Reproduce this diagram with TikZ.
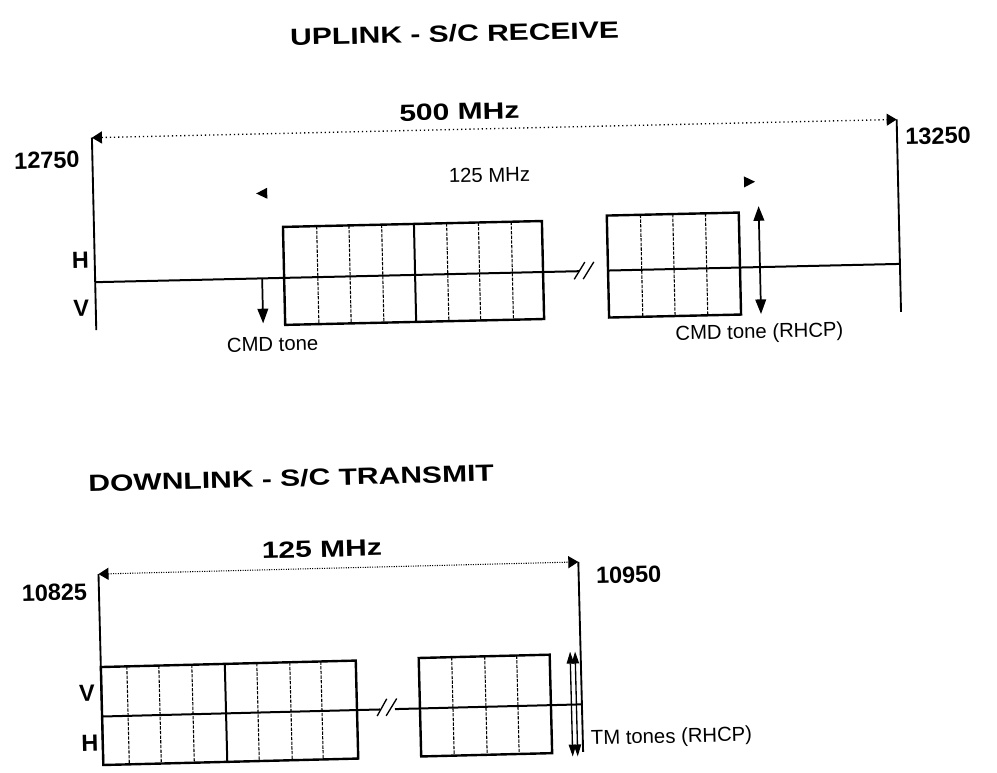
\documentclass[tikz,border=0pt]{standalone}
\usepackage{fontspec}
\setmainfont{Liberation Sans}
\newfontfamily\widefont{Liberation Sans}[FakeStretch=1.28]
\usetikzlibrary{arrows.meta}
\tikzset{
  ttl/.style={font=\widefont\bfseries\fontsize{17.6}{20}\selectfont, inner sep=0pt},
  num/.style={font=\bfseries\fontsize{17.6}{20}\selectfont, inner sep=0pt},
  lbl/.style={font=\fontsize{15.2}{18}\selectfont, inner sep=0pt},
  band/.style={line width=1.8pt},
  divider/.style={line width=0.8pt, dash pattern=on 2.5pt off 1pt},
  axis/.style={line width=1.5pt},
  edge/.style={line width=1.4pt},
  slash/.style={line width=1pt},
  dimup/.style={line width=1pt, dash pattern=on 0.9pt off 2.2pt,
    {Triangle[length=7.5pt,width=9pt]}-{Triangle[length=7.5pt,width=9pt]}},
  dimdown/.style={line width=0.8pt, densely dotted,
    {Triangle[length=7.5pt,width=9pt]}-{Triangle[length=7.5pt,width=9pt]}},
  tone/.style={line width=1.3pt, -{Triangle[length=11pt,width=8pt]}},
  tonetwo/.style={line width=1.3pt, {Triangle[length=11pt,width=8pt]}-{Triangle[length=11pt,width=8pt]}},
  tmtone/.style={line width=1pt, {Triangle[length=9pt,width=5.5pt]}-{Triangle[length=9pt,width=5.5pt]}},
}
\begin{document}
\begin{tikzpicture}[x=0.75pt, y=-0.75pt]
\useasboundingbox (0,0) rectangle (997,773);

% ---------------- UPLINK ----------------
\begin{scope}[rotate around={1.3:(500,270)}, transform shape]
  \node[ttl] (uptitle) at (460,32.5) {UPLINK - S/C RECEIVE};
  \coordinate (ultop) at (95,128.5);
  \coordinate (ulbot) at (95,321);
  \coordinate (urtop) at (900,128.5);
  \coordinate (urbot) at (900,321);
  \draw[edge] (ultop) -- (ulbot);
  \draw[edge] (urtop) -- (urbot);
  \draw[dimup] (ultop) -- (urtop);
  \node[ttl] (w500) at (463,110.7) {500 MHz};
  \node[num] (f12750) at (49.5,150) {12750};
  \node[num] (f13250) at (941,146) {13250};
  \node[lbl] (w125) at (491.7,174.8) {125 MHz};
  \fill (258,188) -- (269,182.5) -- (269,193.5) -- cycle;
  \fill (757,187.5) -- (746,182) -- (746,193) -- cycle;
  \node[num] (hU) at (80.8,250.6) {H};
  \node[num] (vU) at (80.5,299) {V};
  % boxes
  \draw[band] (284,222) rectangle (543,320);
  \foreach \x in {317.7,350,382.7,447.7,479.5,512.3}
    \draw[divider] (\x,222) -- (\x,320);
  \draw[line width=1.5pt] (415,222) -- (415,320);
  \draw[band] (608,218) rectangle (740,320);
  \foreach \x in {641.7,674,706.7}
    \draw[divider] (\x,218) -- (\x,320);
  % axis
  \coordinate (axL) at (95,273);
  \coordinate (brkL) at (579,273);
  \coordinate (brkR) at (608,273);
  \coordinate (axR) at (900,273);
  \draw[axis] (axL) -- (brkL);
  \draw[axis] (brkR) -- (axR);
  \draw[slash] (574,281) -- (585,264);
  \draw[slash] (583,281) -- (594,264);
  % tones
  \coordinate (cmdA) at (262,273);
  \coordinate (cmdB) at (262,318);
  \draw[tone] (cmdA) -- (cmdB);
  \node[lbl] (cmdlbl) at (271,339) {CMD tone};
  \coordinate (rhA) at (760,212);
  \coordinate (rhB) at (760,320);
  \draw[tonetwo] (rhA) -- (rhB);
  \node[lbl] (rhcpU) at (758,339) {CMD tone (RHCP)};
\end{scope}

% ---------------- DOWNLINK ----------------
\begin{scope}[rotate around={1.45:(340,710)}, transform shape]
  \node[ttl] (dntitle) at (297,477) {DOWNLINK - S/C TRANSMIT};
  \node[ttl] (w125d) at (326,548.6) {125 MHz};
  \coordinate (dltop) at (102,568);
  \coordinate (dlbot) at (102,759);
  \coordinate (drtop) at (582,568);
  \coordinate (drbot) at (582,758);
  \draw[edge] (dltop) -- (dlbot);
  \draw[edge] (drtop) -- (drbot);
  \draw[dimdown] (dltop) -- (drtop);
  \node[num] (f10825) at (57.5,585.4) {10825};
  \node[num] (f10950) at (632,582.3) {10950};
  \node[num] (vD) at (87.5,686.7) {V};
  \node[num] (hD) at (89,737) {H};
  % boxes
  \draw[band] (102,661) rectangle (357,759);
  \foreach \x in {128,160,193,258,291,322}
    \draw[divider] (\x,661) -- (\x,759);
  \draw[line width=1.5pt] (226,661) -- (226,759);
  \draw[band] (420,660) rectangle (551,758.5);
  \foreach \x in {453,486,518}
    \draw[divider] (\x,660) -- (\x,758.5);
  % axis
  \coordinate (daxL) at (102,710.5);
  \coordinate (dbrkL) at (380,710.5);
  \coordinate (dbrkR) at (395,710.5);
  \coordinate (daxR) at (582,710.5);
  \draw[axis] (daxL) -- (dbrkL);
  \draw[axis] (dbrkR) -- (daxR);
  \draw[slash] (377,717) -- (387,700);
  \draw[slash] (386,717) -- (397,700);
  % TM tones
  \coordinate (tm1a) at (571.5,657.5);
  \coordinate (tm1b) at (571.5,762.5);
  \coordinate (tm2a) at (576.5,657.5);
  \coordinate (tm2b) at (576.5,762.5);
  \draw[tmtone] (tm1a) -- (tm1b);
  \draw[tmtone] (tm2a) -- (tm2b);
  \node[lbl, anchor=west] (tmlbl) at (590,746) {TM tones (RHCP)};
\end{scope}
\end{tikzpicture}
\end{document}
